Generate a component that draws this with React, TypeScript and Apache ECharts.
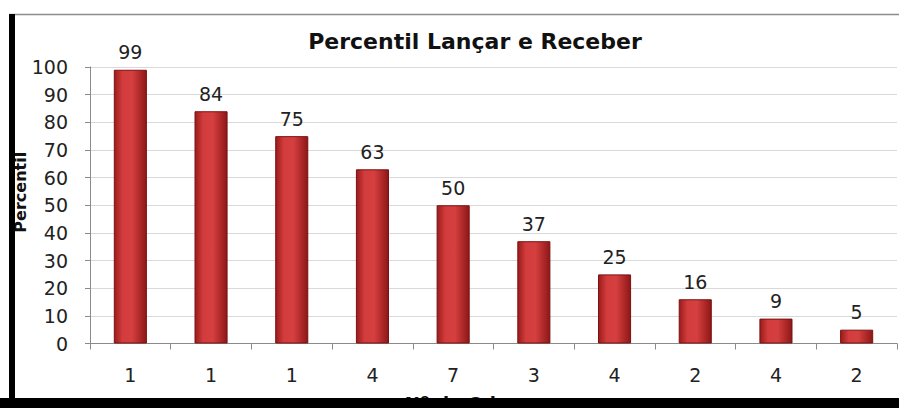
import React, { useEffect, useRef } from "react";
import * as echarts from "echarts";

const categories = ["1", "1", "1", "4", "7", "3", "4", "2", "4", "2"];
const percentis = [99, 84, 75, 63, 50, 37, 25, 16, 9, 5];
const yTicks = { min: 0, max: 100, interval: 10 };
const title = "Percentil Lançar e Receber";
const yName = "Percentil";
const xName = "Nº de Crianças";

const FONT = "DejaVu Sans";

export default function App() {
  const ref = useRef<HTMLDivElement>(null);
  useEffect(() => {
    const chart = echarts.init(ref.current!, null, { renderer: "svg" });
    chart.setOption({
      animation: false,
      backgroundColor: "#ffffff",
      title: {
        text: title,
        left: 470,
        top: 25,
        textAlign: "center",
        textStyle: { fontFamily: FONT, fontWeight: "bold", fontSize: 22, color: "#111" },
      },
      grid: { left: 90, right: 2, top: 67, bottom: 64.5, outerBoundsMode: "none", containLabel: false },
      xAxis: {
        type: "category",
        data: categories,
        name: xName,
        nameLocation: "middle",
        nameGap: 51,
        nameMoveOverlap: false,
        nameTextStyle: { fontFamily: FONT, fontWeight: "bold", fontSize: 18, color: "#111", padding: [0, 28, 0, 0] },
        axisLine: { lineStyle: { color: "#8a8a8a", width: 1 } },
        axisTick: { show: true, alignWithLabel: false, length: 6, lineStyle: { color: "#8a8a8a" } },
        axisLabel: { fontFamily: FONT, fontSize: 19, color: "#222", margin: 22 },
      },
      yAxis: {
        type: "value",
        min: yTicks.min,
        max: yTicks.max,
        interval: yTicks.interval,
        name: yName,
        nameLocation: "middle",
        nameGap: 62,
        nameMoveOverlap: false,
        nameTextStyle: { fontFamily: FONT, fontWeight: "bold", fontSize: 16, color: "#111", padding: [0, 0, 0, 26] },
        axisLine: { show: true, lineStyle: { color: "#8a8a8a", width: 1 } },
        axisTick: { show: true, length: 5, lineStyle: { color: "#8a8a8a" } },
        axisLabel: { fontFamily: FONT, fontSize: 19, color: "#222", margin: 22 },
        splitLine: { show: true, lineStyle: { color: "#d9d9d9", width: 1 } },
      },
      series: [
        {
          type: "bar",
          data: percentis,
          barWidth: "41%",
          itemStyle: {
            color: new echarts.graphic.LinearGradient(0, 0, 1, 0, [
              { offset: 0, color: "#9a1b1b" },
              { offset: 0.25, color: "#d23c3c" },
              { offset: 0.55, color: "#d63f3f" },
              { offset: 1, color: "#8e1717" },
            ]),
            borderColor: "#7a1212",
            borderWidth: 1,
          },
          label: {
            show: true,
            position: "top",
            distance: 8,
            fontFamily: FONT,
            fontSize: 19,
            color: "#222",
          },
        },
      ],
      graphic: [
        { type: "line", z: 100, shape: { x1: 9, y1: 14.5, x2: 899, y2: 14.5 }, style: { stroke: "#8c8c8c", lineWidth: 1.5 } },
        { type: "rect", z: 100, shape: { x: 9, y: 14, width: 6, height: 394 }, style: { fill: "#000" } },
        { type: "rect", z: 100, shape: { x: 0, y: 398, width: 899, height: 10 }, style: { fill: "#000" } },
      ],
    });
    return () => chart.dispose();
  }, []);
  return (
    <div
      ref={ref}
      style={{ position: "absolute", left: 0, top: 0, width: 899, height: 408 }}
    />
  );
}
